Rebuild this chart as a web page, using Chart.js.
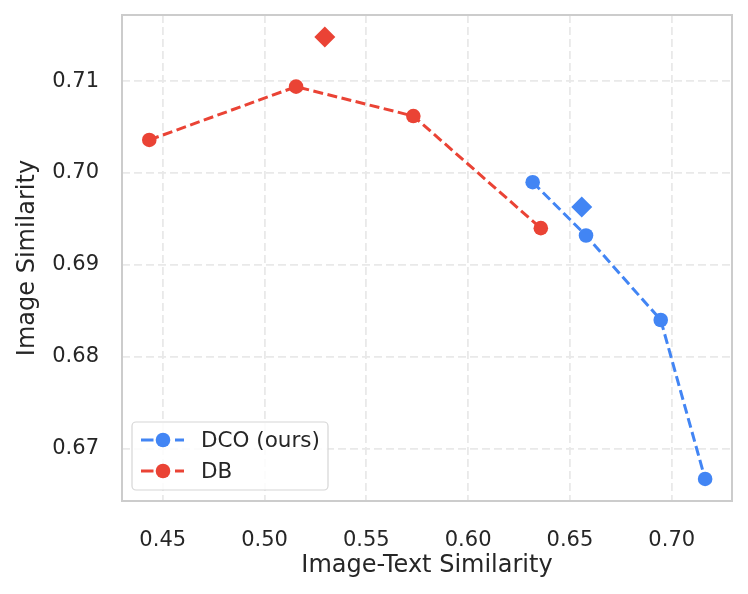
<!DOCTYPE html>
<html>
<head>
<meta charset="utf-8">
<script src="https://cdn.jsdelivr.net/npm/chart.js@4"></script>
<style>
  html, body { margin: 0; padding: 0; background: #ffffff; }
  #wrap { width: 748px; height: 594px; }
</style>
</head>
<body>
<div id="wrap"><canvas id="c" width="748" height="594"></canvas></div>
<script>
// ---- data ----
const seriesNames = ['DCO (ours)', 'DB'];
const dcoX = [0.6317, 0.6579, 0.6946, 0.7164];
const dcoY = [0.6990, 0.6932, 0.6840, 0.6667];
const dbX  = [0.4434, 0.5155, 0.5731, 0.6357];
const dbY  = [0.7036, 0.7094, 0.7062, 0.6940];
const dcoStarX = [0.6558];
const dcoStarY = [0.6963];
const dbStarX  = [0.5296];
const dbStarY  = [0.7148];
const xTickValues = [0.45, 0.50, 0.55, 0.60, 0.65, 0.70];
const yTickValues = [0.67, 0.68, 0.69, 0.70, 0.71];
const xTitle = 'Image-Text Similarity';
const yTitle = 'Image Similarity';

const BLUE = '#4285F4';
const RED = '#EA4335';
const TXT = '#262626';
const FONT = "'DejaVu Sans', sans-serif";

const pts = (xs, ys) => xs.map((x, i) => ({x: x, y: ys[i]}));

const framePlugin = {
  id: 'frame',
  afterDraw(chart) {
    const {ctx, chartArea: a} = chart;
    ctx.save();
    ctx.strokeStyle = '#cccccc';
    ctx.lineWidth = 2;
    ctx.strokeRect(a.left, a.top, a.right - a.left, a.bottom - a.top);
    ctx.restore();
  }
};

const legendPlugin = {
  id: 'innerLegend',
  afterDatasetsDraw(chart) {
    const {ctx, chartArea: a} = chart;
    const boxL = a.left + 10, boxW = 196, boxH = 68;
    const boxB = a.bottom - 11, boxT = boxB - boxH;
    ctx.save();
    ctx.beginPath();
    ctx.roundRect(boxL, boxT, boxW, boxH, 4);
    ctx.fillStyle = 'rgba(255,255,255,0.85)';
    ctx.fill();
    ctx.strokeStyle = '#d6d6d6';
    ctx.lineWidth = 1.2;
    ctx.stroke();
    const entries = [0, 1].map(i => chart.data.datasets[i]);
    entries.forEach((ds, i) => {
      const cy = boxT + 18 + i * 31;
      const lx0 = boxL + 9, lx1 = boxL + 52, cx = boxL + 31;
      ctx.strokeStyle = ds.borderColor;
      ctx.lineWidth = 3;
      ctx.setLineDash([]);
      ctx.beginPath();
      ctx.moveTo(lx0, cy); ctx.lineTo(lx0 + 12.5, cy);
      ctx.moveTo(lx1 - 9, cy); ctx.lineTo(lx1, cy);
      ctx.stroke();
      ctx.fillStyle = ds.backgroundColor;
      ctx.beginPath();
      ctx.arc(cx, cy, 7.3, 0, Math.PI * 2);
      ctx.fill();
      ctx.fillStyle = TXT;
      ctx.font = '21.5px ' + FONT;
      ctx.textBaseline = 'middle';
      ctx.textAlign = 'left';
      ctx.fillText(ds.label, boxL + 69, cy + 1);
    });
    ctx.restore();
  }
};

const zeroPad = s => { s.paddingTop = 0; s.paddingBottom = 0; s.paddingLeft = 0; s.paddingRight = 0; };

new Chart(document.getElementById('c'), {
  type: 'scatter',
  data: {
    datasets: [
      { label: seriesNames[0], data: pts(dcoX, dcoY), showLine: true,
        borderColor: BLUE, backgroundColor: BLUE, borderWidth: 3, borderDash: [10, 4.5],
        pointRadius: 7.3, pointHoverRadius: 7.3, pointBorderWidth: 0, order: 2 },
      { label: seriesNames[1], data: pts(dbX, dbY), showLine: true,
        borderColor: RED, backgroundColor: RED, borderWidth: 3, borderDash: [10, 4.5],
        pointRadius: 7.3, pointHoverRadius: 7.3, pointBorderWidth: 0, order: 2 },
      { label: seriesNames[0] + ' *', data: pts(dcoStarX, dcoStarY), showLine: false,
        borderColor: BLUE, backgroundColor: BLUE, pointStyle: 'rectRot',
        pointRadius: 10.5, pointHoverRadius: 10.5, pointBorderWidth: 0, order: 1 },
      { label: seriesNames[1] + ' *', data: pts(dbStarX, dbStarY), showLine: false,
        borderColor: RED, backgroundColor: RED, pointStyle: 'rectRot',
        pointRadius: 10.5, pointHoverRadius: 10.5, pointBorderWidth: 0, order: 1 }
    ]
  },
  options: {
    responsive: false,
    animation: false,
    devicePixelRatio: 1,
    layout: { padding: { top: 15, right: 16, left: 0, bottom: 0 } },
    plugins: { legend: { display: false }, tooltip: { enabled: false } },
    scales: {
      x: {
        type: 'linear', min: 0.430, max: 0.7296,
        afterBuildTicks: s => { s.ticks = xTickValues.map(v => ({value: v})); },
        afterFit: s => { s.height = 93; zeroPad(s); },
        ticks: { padding: 27, color: TXT, font: { family: FONT, size: 21 },
                 callback: v => Number(v).toFixed(2) },
        grid: { color: '#e9e9e9', lineWidth: 1.8, drawTicks: false },
        border: { display: false, dash: [8, 4] },
        title: { display: true, text: xTitle, color: TXT,
                 font: { family: FONT, size: 24 }, padding: { top: 0, bottom: 14 } }
      },
      y: {
        type: 'linear', min: 0.6643, max: 0.7172,
        afterBuildTicks: s => { s.ticks = yTickValues.map(v => ({value: v})); },
        afterFit: s => { s.width = 122; zeroPad(s); },
        ticks: { padding: 23, color: TXT, font: { family: FONT, size: 21 },
                 callback: v => Number(v).toFixed(2) },
        grid: { color: '#e9e9e9', lineWidth: 1.8, drawTicks: false },
        border: { display: false, dash: [8, 4] },
        title: { display: true, text: yTitle, color: TXT,
                 font: { family: FONT, size: 24 }, padding: { top: 13, bottom: 0 } }
      }
    }
  },
  plugins: [framePlugin, legendPlugin]
});
</script>
</body>
</html>
